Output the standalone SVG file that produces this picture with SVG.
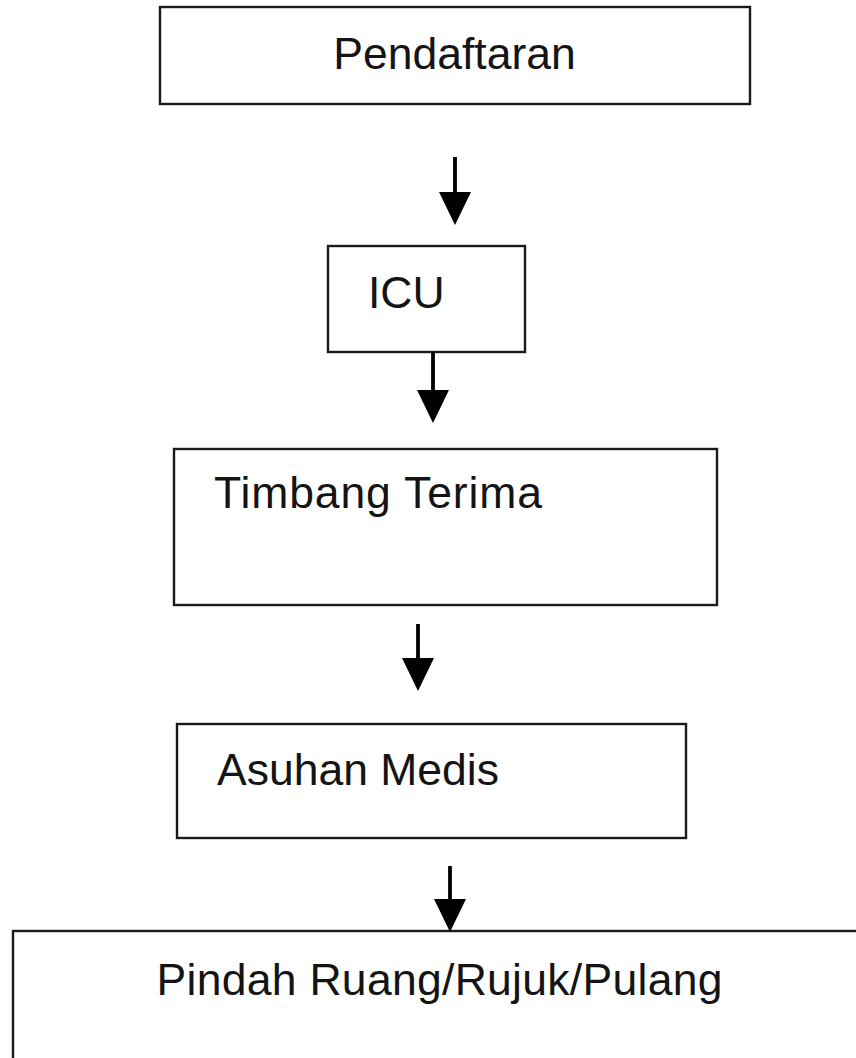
<svg xmlns="http://www.w3.org/2000/svg" width="856" height="1058" viewBox="0 0 856 1058">
  <style>
    .box { fill: #ffffff; stroke: #1a1a1a; stroke-width: 2.4; }
    .lbl { font-family: "Liberation Sans", Arial, sans-serif; font-size: 44.5px; fill: #141414; }
    .conn { stroke: #000000; stroke-width: 3.8; fill: none; }
  </style>
  <defs>
    <marker id="arrow" markerUnits="userSpaceOnUse" markerWidth="34" markerHeight="34" refX="13" refY="16" orient="auto" viewBox="0 0 34 34">
      <path d="M0,0 L33,16 L0,32 Z" fill="#000000"/>
    </marker>
  </defs>
  <rect x="0" y="0" width="856" height="1058" fill="#ffffff"/>

  <g id="node-pendaftaran">
    <rect class="box" x="160" y="7" width="590" height="97"/>
    <text class="lbl" x="454.5" y="69" text-anchor="middle">Pendaftaran</text>
  </g>

  <g id="node-icu">
    <rect class="box" x="328" y="246" width="197" height="106"/>
    <text class="lbl" x="368" y="308">ICU</text>
  </g>

  <g id="node-timbang">
    <rect class="box" x="174" y="449" width="543" height="156"/>
    <text class="lbl" x="214" y="508" textLength="328" lengthAdjust="spacing">Timbang Terima</text>
  </g>

  <g id="node-asuhan">
    <rect class="box" x="177" y="724" width="509" height="114"/>
    <text class="lbl" x="217" y="785">Asuhan Medis</text>
  </g>

  <g id="node-pindah">
    <rect class="box" x="13" y="931" width="900" height="200"/>
    <text class="lbl" x="156.5" y="995" textLength="566" lengthAdjust="spacing">Pindah Ruang/Rujuk/Pulang</text>
  </g>

  <g id="connectors">
    <line class="conn" x1="455" y1="157" x2="455" y2="205" marker-end="url(#arrow)"/>
    <line class="conn" x1="433" y1="352" x2="433" y2="403" marker-end="url(#arrow)"/>
    <line class="conn" x1="418" y1="624" x2="418" y2="671" marker-end="url(#arrow)"/>
    <line class="conn" x1="450" y1="866" x2="450" y2="912" marker-end="url(#arrow)"/>
  </g>
</svg>
